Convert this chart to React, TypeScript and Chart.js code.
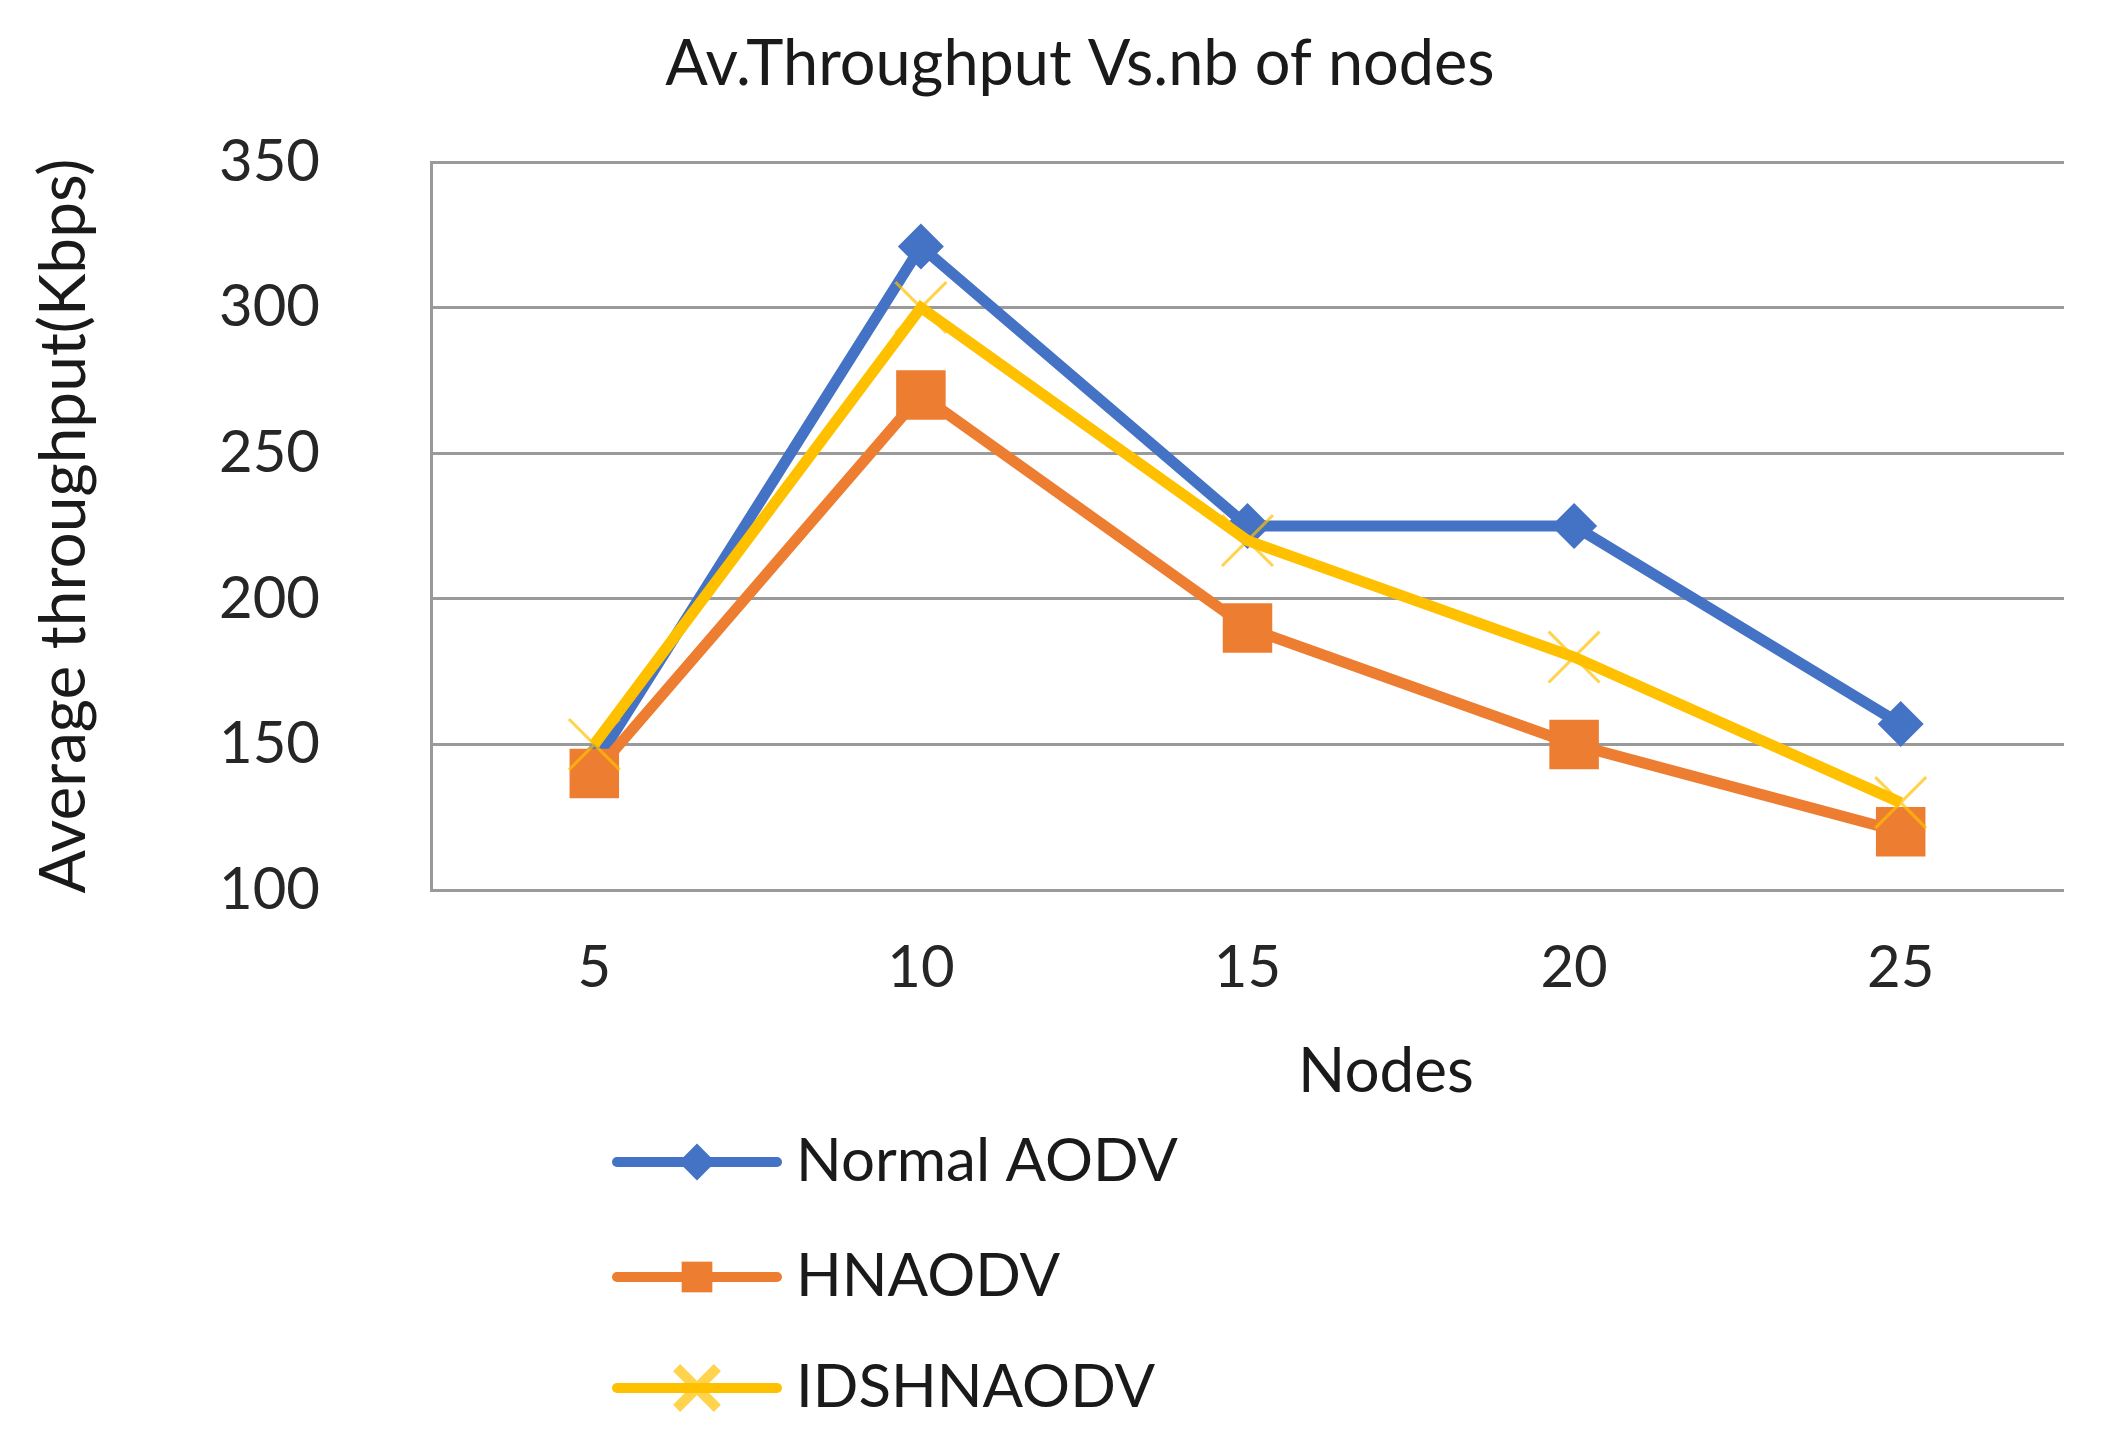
import React, { useEffect, useRef } from 'react';
import { Chart, registerables } from 'chart.js';
import { drawPoint } from 'chart.js/helpers';

Chart.register(...registerables);

const nodes = ['5', '10', '15', '20', '25'];
const normalAodv = [143, 321, 225, 225, 157];
const hnaodv = [140, 270, 190, 150, 120];
const idshnaodv = [150, 300, 220, 180, 130];
const yTicks = [100, 150, 200, 250, 300, 350];

const BLUE = '#4472C4';
const ORANGE = '#ED7D31';
const YELLOW = '#FFC000';
const GRID = '#9a9a9a';
const FONT = 'Lato';
const TEXT = '#1a1a1a';

// legend markers are a bit smaller than the ones on the lines
const legendScale: Record<string, number> = { rectRot: 0.8, rect: 0.62, crossRot: 0.8 };

// title, x title and legend drawn by hand so they sit where Excel put them
const sideText = {
  id: 'sideText',
  afterDraw(chart: Chart) {
    const { ctx } = chart;
    ctx.save();
    ctx.fillStyle = TEXT;
    ctx.textAlign = 'center';
    ctx.textBaseline = 'middle';
    ctx.font = `63px ${FONT}`;
    ctx.fillText('Av.Throughput Vs.nb of nodes', 1080, 65);
    ctx.font = `62px ${FONT}`;
    ctx.fillText('Nodes', 1386, 1072);

    const rows = [1162, 1277, 1388];
    chart.data.datasets.forEach((ds: any, i: number) => {
      const y = rows[i];
      ctx.strokeStyle = ds.borderColor;
      ctx.lineWidth = 10;
      ctx.lineCap = 'round';
      ctx.beginPath();
      ctx.moveTo(617, y);
      ctx.lineTo(777, y);
      ctx.stroke();
      ctx.lineCap = 'butt';
      ctx.fillStyle = ds.pointBackgroundColor;
      ctx.strokeStyle = ds.pointBorderColor;
      drawPoint(ctx, {
        pointStyle: ds.pointStyle,
        radius: ds.pointRadius * (legendScale[ds.pointStyle] ?? 0.7),
        borderWidth: ds.pointBorderWidth,
        rotation: 0,
      }, 697, y);
      ctx.fillStyle = TEXT;
      ctx.font = `60px ${FONT}`;
      ctx.textAlign = 'left';
      ctx.fillText(ds.label, 796, y);
    });
    ctx.restore();
  },
};

export default function App() {
  const canvasRef = useRef<HTMLCanvasElement>(null);

  useEffect(() => {
    if (!canvasRef.current) return;
    const chart = new Chart(canvasRef.current, {
      type: 'line',
      data: {
        labels: nodes,
        datasets: [
          {
            label: 'Normal AODV',
            data: normalAodv,
            borderColor: BLUE,
            backgroundColor: BLUE,
            borderWidth: 11,
            pointStyle: 'rectRot',
            pointRadius: 23,
            pointBackgroundColor: BLUE,
            pointBorderColor: BLUE,
            pointBorderWidth: 0,
            order: 3,
          },
          {
            label: 'HNAODV',
            data: hnaodv,
            borderColor: ORANGE,
            backgroundColor: ORANGE,
            borderWidth: 11,
            pointStyle: 'rect',
            pointRadius: 35,
            pointBackgroundColor: ORANGE,
            pointBorderColor: ORANGE,
            pointBorderWidth: 0,
            order: 2,
          },
          {
            label: 'IDSHNAODV',
            data: idshnaodv,
            borderColor: YELLOW,
            backgroundColor: YELLOW,
            borderWidth: 11,
            pointStyle: 'crossRot',
            pointRadius: 36,
            pointBackgroundColor: YELLOW,
            pointBorderColor: 'rgba(255,192,0,0.7)',
            pointBorderWidth: 3,
            order: 1,
          },
        ],
      },
      options: {
        animation: false,
        responsive: true,
        maintainAspectRatio: false,
        layout: { padding: { left: 0, right: 34, top: 162, bottom: 0 } },
        font: { family: FONT },
        plugins: {
          legend: { display: false },
          tooltip: { enabled: false },
          title: { display: false },
        },
        scales: {
          x: {
            offset: true,
            grid: { display: false, drawTicks: false },
            border: { display: false },
            ticks: {
              color: '#262626',
              font: { family: FONT, size: 58 },
              padding: 43,
            },
            afterFit: (s: any) => { s.height = 561; },
          },
          y: {
            min: yTicks[0],
            max: yTicks[yTicks.length - 1],
            afterBuildTicks: (s: any) => { s.ticks = yTicks.map((v) => ({ value: v })); },
            grid: { color: GRID, lineWidth: 3, drawTicks: false },
            border: { display: true, color: GRID, width: 3 },
            ticks: {
              color: '#262626',
              font: { family: FONT, size: 58 },
              padding: 111,
            },
            title: {
              display: true,
              text: 'Average throughput(Kbps)',
              color: TEXT,
              font: { family: FONT, size: 64 },
              padding: { top: 26, bottom: 0 },
            },
            afterFit: (s: any) => { s.width = 431; },
          },
        },
      },
      plugins: [sideText],
    });
    return () => chart.destroy();
  }, []);

  return (
    <div style={{ position: 'fixed', left: 0, top: 0, width: '100vw', height: '100vh', background: '#fff' }}>
      <canvas ref={canvasRef} />
    </div>
  );
}
